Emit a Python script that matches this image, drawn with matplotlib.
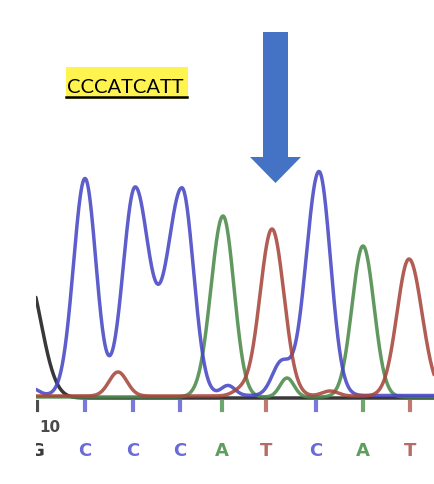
import numpy as np
import matplotlib
matplotlib.use("Agg")
import matplotlib.pyplot as plt
from matplotlib.patches import FancyArrow, Rectangle

# Sanger trace: peaks per dye channel (scan position, height, left/right sigma)
BLACK_POS = [26]
BLACK_HT = [125]
BLACK_SL = [17]
BLACK_SR = [15]

BLUE_POS = [30, 85, 135, 182, 228, 281, 319]
BLUE_HT = [8, 217, 207, 207, 10, 32, 224]
BLUE_SL = [8, 11.5, 12, 15, 7, 9, 13]
BLUE_SR = [8, 11, 14, 11.5, 7, 9, 11.5]

GREEN_POS = [223, 287, 363]
GREEN_HT = [181, 19, 151]
GREEN_SL = [12, 7, 11]
GREEN_SR = [11, 7, 11]

RED_POS = [118, 240, 272, 330, 409]
RED_HT = [24, 5, 167, 5, 137]
RED_SL = [9, 8, 12, 8, 12]
RED_SR = [9, 8, 12, 8, 13]

# base calls under the trace
CALL_POS = [37, 85, 133, 180, 222, 266, 316, 363, 410]
CALL_BASE = ["G", "C", "C", "C", "A", "T", "C", "A", "T"]
POS_LABEL = "10"
POS_LABEL_X = 60

QUERY_SEQ = "CCCATCATT"
MARK_X = 275.5

TRACE_COL = {"G": "#1c1c1c", "C": "#4646c4", "A": "#4a8a4a", "T": "#a6463c"}
CALL_COL = {"G": "#3a3a3a", "C": "#6a6ad8", "A": "#5e9e5e", "T": "#b86a64"}
OFFSET = {"G": 0.0, "C": 2.5, "A": 1.0, "T": 2.0}


def trace(x, pos, ht, sl, sr):
    y = np.zeros_like(x)
    for p, h, a, b in zip(pos, ht, sl, sr):
        s = np.where(x < p, a, b)
        y += h * np.exp(-0.5 * ((x - p) / s) ** 2)
    return y


fig = plt.figure(figsize=(4.34, 4.85), dpi=100)
ax = fig.add_axes([36 / 434, 15 / 485, 398 / 434, 470 / 485])
ax.set_xlim(36, 434)
ax.set_ylim(-71, 399)
ax.axis("off")

x = np.linspace(0, 440, 2000)
channels = [
    ("G", BLACK_POS, BLACK_HT, BLACK_SL, BLACK_SR),
    ("A", GREEN_POS, GREEN_HT, GREEN_SL, GREEN_SR),
    ("C", BLUE_POS, BLUE_HT, BLUE_SL, BLUE_SR),
    ("T", RED_POS, RED_HT, RED_SL, RED_SR),
]
for base, pos, ht, sl, sr in channels:
    y = trace(x, pos, ht, sl, sr) + OFFSET[base]
    ax.plot(x, y, color=TRACE_COL[base], lw=2.5, solid_capstyle="round",
            alpha=0.88, clip_on=True)

# call ticks and letters
for p, b in zip(CALL_POS, CALL_BASE):
    ax.plot([p, p], [-4, -12], color=CALL_COL[b], lw=3.0, alpha=0.9)
    ax.text(p, -52, b, color=CALL_COL[b], fontsize=13, fontweight="bold",
            ha="center", va="center", family="DejaVu Sans", clip_on=True)
ax.text(POS_LABEL_X, -29, POS_LABEL, color="#2a2a2a", fontsize=11,
        fontweight="bold", ha="right", va="center", clip_on=True, alpha=0.85)

# arrow over the variant position
ax.add_patch(FancyArrow(MARK_X, 366, 0, -151, width=25, head_width=51,
                        head_length=26, length_includes_head=True,
                        color="#4472C4", lw=0, clip_on=False))

# highlighted query sequence
ax.add_patch(Rectangle((66, 299), 122, 32, facecolor="#FFF44F",
                       edgecolor="none", clip_on=False))
ax.text(67, 306, QUERY_SEQ, fontsize=14.5, family="Lato", color="black",
        ha="left", va="baseline", clip_on=False)
ax.plot([66, 187], [301, 301], color="black", lw=1.8, clip_on=False)

fig.savefig("out.png", dpi=100)
